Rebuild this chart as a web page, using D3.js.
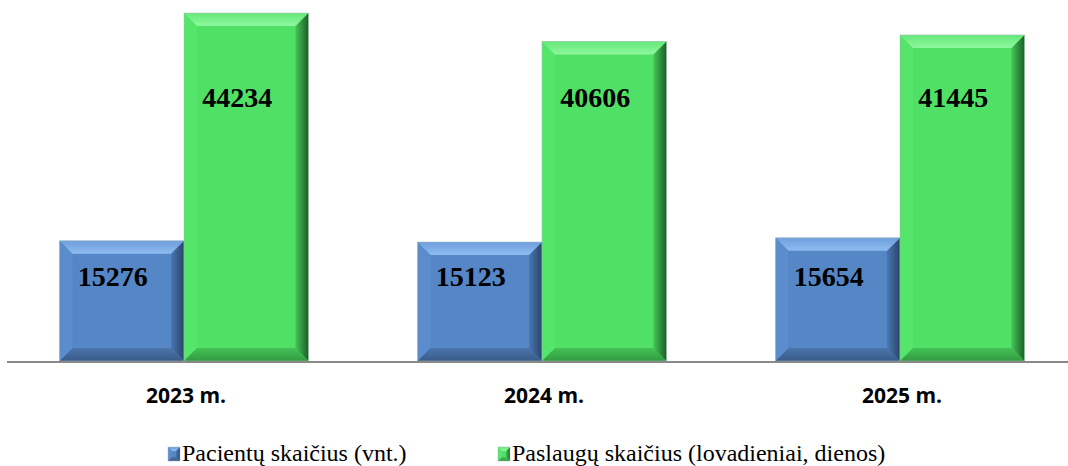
<!DOCTYPE html>
<html>
<head>
<meta charset="utf-8">
<script src="https://cdn.jsdelivr.net/npm/d3@7"></script>
<style>
  body { margin: 0; background: #fff; }
  svg { display: block; }
</style>
</head>
<body>
<div id="chart"></div>
<script>
// duomenys
const years = ['2023 m.', '2024 m.', '2025 m.'];
const seriesNames = ['Pacientų skaičius (vnt.)', 'Paslaugų skaičius (lovadieniai, dienos)'];
const patients = [15276, 15123, 15654];
const services = [44234, 40606, 41445];

const w = 1068, h = 466;
const baseY = 361;
const bevel = 13;

// spalvos
const palettes = [
    {id: 'b', face: '#5586c6', topOut: '#6f9edc', topIn: '#8fbbf0', left: '#5b8ccb',
     rightIn: '#4a77b2', rightOut: '#2a4467', botIn: '#4b75ab', botOut: '#395b89'},
    {id: 'g', face: '#50e066', topOut: '#66e97a', topIn: '#8ef79e', left: '#55e56b',
     rightIn: '#44c558', rightOut: '#1f5e28', botIn: '#43c256', botOut: '#329a40'}
];
// etikečių aukštis (vertėmis)
const labelLevel = [9500, 32300];

const svg = d3.select('#chart').append('svg').attr('width', w).attr('height', h);
const defs = svg.append('defs');

function grad(id, x1, y1, x2, y2, c1, c2) {
    const g = defs.append('linearGradient').attr('id', id)
        .attr('x1', x1).attr('y1', y1).attr('x2', x2).attr('y2', y2);
    g.append('stop').attr('offset', 0).attr('stop-color', c1);
    g.append('stop').attr('offset', 1).attr('stop-color', c2);
}
palettes.forEach(p => {
    grad(p.id + 'top', 0, 0, 0, 1, p.topOut, p.topIn);
    grad(p.id + 'right', 0, 0, 1, 0, p.rightIn, p.rightOut);
    grad(p.id + 'bottom', 0, 0, 0, 1, p.botIn, p.botOut);
});

let x0 = d3.scaleBand().domain(years).range([5, 1079]).paddingInner(0.305).paddingOuter(0.1525);
let x1 = d3.scaleBand().domain([0, 1]).range([0, x0.bandwidth()]);
let y = d3.scaleLinear().domain([0, 45000]).range([baseY, 7]);

const rows = [];
years.forEach((yr, i) => {
    rows.push({year: yr, s: 0, v: patients[i]});
    rows.push({year: yr, s: 1, v: services[i]});
});

function drawBar(g, x, top, bw, bh, p, b) {
    const x2 = x + bw, y2 = top + bh;
    g.append('rect').attr('x', x).attr('y', top).attr('width', bw).attr('height', bh).attr('fill', p.face);
    g.append('path').attr('d', `M${x},${top}L${x + b},${top + b}L${x + b},${y2 - b}L${x},${y2}Z`).attr('fill', p.left);
    g.append('path').attr('d', `M${x2},${top}L${x2},${y2}L${x2 - b},${y2 - b}L${x2 - b},${top + b}Z`).attr('fill', `url(#${p.id}right)`);
    g.append('path').attr('d', `M${x},${y2}L${x + b},${y2 - b}L${x2 - b},${y2 - b}L${x2},${y2}Z`).attr('fill', `url(#${p.id}bottom)`);
    g.append('path').attr('d', `M${x},${top}L${x2},${top}L${x2 - b},${top + b}L${x + b},${top + b}Z`).attr('fill', `url(#${p.id}top)`);
    g.append('rect').attr('x', x).attr('y', top).attr('width', bw).attr('height', bh)
        .attr('fill', 'none').attr('stroke', '#a9b7bd').attr('stroke-width', 0.8).attr('stroke-opacity', 0.6);
}

const bars = svg.append('g');
rows.forEach(d => {
    const bx = x0(d.year) + x1(d.s);
    const top = y(d.v);
    drawBar(bars.append('g'), bx, top, x1.bandwidth(), baseY - top, palettes[d.s], bevel);
});

// ašis
svg.append('line').attr('x1', 7).attr('x2', w).attr('y1', baseY + 1).attr('y2', baseY + 1)
    .attr('stroke', '#898989').attr('stroke-width', 2);

// reikšmės
svg.append('g').selectAll('text').data(rows).enter().append('text')
    .attr('x', d => x0(d.year) + x1(d.s) + x1.bandwidth() / 2 - 9)
    .attr('y', d => y(labelLevel[d.s]))
    .attr('text-anchor', 'middle')
    .attr('font-family', '"Liberation Serif", "Times New Roman", serif')
    .attr('font-weight', 'bold')
    .attr('font-size', 28)
    .attr('fill', '#000')
    .text(d => d.v);

// x žymės
svg.append('g').selectAll('text').data(years).enter().append('text')
    .attr('x', d => x0(d) + x0.bandwidth() / 2 + 2)
    .attr('y', 403)
    .attr('text-anchor', 'middle')
    .attr('font-family', '"Open Sans", sans-serif')
    .attr('font-weight', 'bold')
    .attr('font-size', 21)
    .attr('fill', '#000')
    .text(d => d);

// legenda
const legendX = [168, 498];
seriesNames.forEach((name, i) => {
    const g = svg.append('g').attr('transform', 'translate(' + legendX[i] + ',447)');
    drawBar(g, 0, 0, 12, 14, palettes[i], 4);
    g.append('text').attr('x', 14).attr('y', 14)
        .attr('font-family', '"Liberation Serif", "Times New Roman", serif')
        .attr('font-size', 24)
        .attr('fill', '#000')
        .text(name);
});
</script>
</body>
</html>
